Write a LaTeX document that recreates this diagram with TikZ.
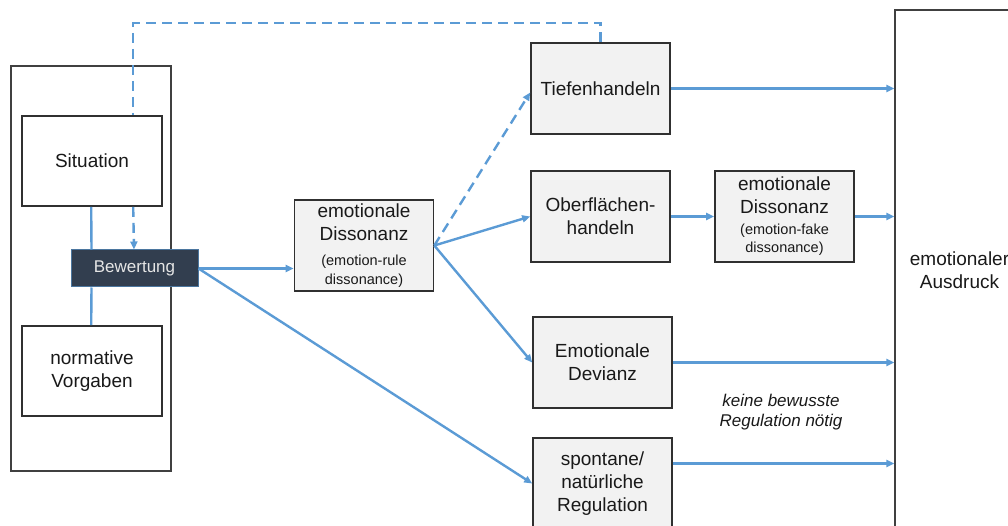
\documentclass[tikz,border=0pt]{standalone}
\usepackage{fontspec}
\setmainfont{Liberation Sans}
\usetikzlibrary{arrows.meta,calc}
\definecolor{flow}{HTML}{5B9BD5}
\definecolor{boxfill}{HTML}{F2F2F2}
\definecolor{boxline}{HTML}{303030}
\definecolor{navy}{HTML}{323E4F}
\newcommand{\sm}{\fontsize{14.5}{18.5}\selectfont}
\tikzset{
  x=1pt, y=-1pt,
  every node/.style={text=black!90},
  stage/.style={draw=boxline, line width=1.6pt, fill=boxfill, minimum width=139pt,
    minimum height=91pt, inner sep=0pt, align=center, font=\fontsize{19}{23}\selectfont},
  plainbox/.style={stage, fill=white, minimum width=140pt, minimum height=90pt},
  frame/.style={draw=black!75, line width=1.1pt, inner sep=0pt},
  tip/.style={-{Triangle[length=8pt,width=7pt]}},
  flowline/.style={draw=flow, line width=2.4pt, tip},
  linkline/.style={draw=flow, line width=2.4pt},
  dashline/.style={draw=flow, line width=2.4pt, dash pattern=on 10pt off 6pt},
}
\begin{document}
\begin{tikzpicture}
\clip (0,0) rectangle (1008,526);
\useasboundingbox (0,0) rectangle (1008,526);

% outer frames
\node[frame, minimum width=160pt, minimum height=405pt] (inputs) at (91,268.5) {};
\node[frame, minimum width=129pt, minimum height=520pt, align=center,
  font=\fontsize{19}{23}\selectfont] (aus) at (959.5,270) {emotionaler\\Ausdruck};

% appraisal inputs
\node[plainbox] (sit) at (92,161) {Situation};
\node[plainbox] (norm) at (92,371) {normative\\Vorgaben};
\node[draw=flow!60!navy, line width=1pt, fill=navy, minimum width=127pt, minimum height=37pt,
  inner sep=0pt, text=white!90!black, font=\fontsize{17}{20}\selectfont] (bw) at (134.5,268.5) {Bewertung};

% regulation stages
\node[stage] (d1) at (364,245.5) {emotionale\\Dissonanz\\[2pt]\sm(emotion-rule\\[-4.5pt]\sm dissonance)};
\node[stage] (tief) at (600.5,88.5) {Tiefenhandeln};
\node[stage] (ober) at (600.5,216.5) {Oberflächen-\\handeln};
\node[stage] (d2) at (784.5,216.5) {emotionale\\Dissonanz\\[-2pt]\sm(emotion-fake\\[-5pt]\sm dissonance)};
\node[stage] (dev) at (602.5,362.5) {Emotionale\\Devianz};
\node[stage] (spon) at (602.5,483.5) {spontane/\\natürliche\\Regulation};

\node[align=center, font=\itshape\fontsize{17}{20}\selectfont] (note) at (781,412)
  {keine bewusste\\Regulation nötig};

% links between inputs and appraisal
\draw[linkline] ([xshift=70pt]sit.south west) -- ([xshift=21pt]bw.north west);
\draw[linkline] ([xshift=21pt]bw.south west) -- ([xshift=70pt]norm.north west);

% feedback from deep acting
\draw[dashline] (tief.north) -- ++(0,-19) -| ([xshift=112pt]sit.north west);
\draw[dashline, tip] ([xshift=112pt]sit.south west) -- ([xshift=63.5pt]bw.north west);

% main flow
\draw[flowline, line width=3.2pt] (bw.east) -- (bw.east -| d1.west);
\draw[flowline] (bw.east) -- (spon.west);
\draw[flowline, dash pattern=on 10pt off 6pt] (d1.east) -- ([yshift=-4pt]tief.west);
\draw[flowline] (d1.east) -- (ober.west);
\draw[flowline] (d1.east) -- (dev.west);
\draw[flowline] (ober.east) -- (d2.west);
\draw[flowline] (tief.east) -- (tief.east -| aus.west);
\draw[flowline] (d2.east) -- (d2.east -| aus.west);
\draw[flowline] (dev.east) -- (dev.east -| aus.west);
\draw[flowline] ([yshift=20pt]spon.east) -- ([yshift=20pt]spon.east -| aus.west);
\end{tikzpicture}
\end{document}
